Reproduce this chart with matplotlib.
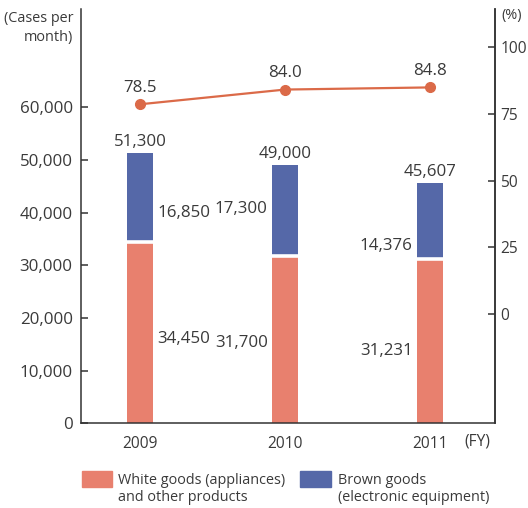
import numpy as np
import matplotlib
matplotlib.use("Agg")
import matplotlib.pyplot as plt
from matplotlib.patches import Rectangle

# ---------------------------------------------------------------------------
# Data
# ---------------------------------------------------------------------------
years = ["2009", "2010", "2011"]
white_goods = [34450, 31700, 31231]
brown_goods = [16850, 17300, 14376]
totals = [51300, 49000, 45607]
rate_pct = [78.5, 84.0, 84.8]

left_ticks = [0, 10000, 20000, 30000, 40000, 50000, 60000]
right_ticks = [0, 25, 50, 75, 100]

# label layout (data units, left axis) and side of the bar
white_label_y = [16000, 15300, 13800]
brown_label_y = [39900, 40700, 33700]
label_side = ["right", "left", "left"]

# ---------------------------------------------------------------------------
# Style
# ---------------------------------------------------------------------------
RED = "#E8806E"
BLUE = "#5568A8"
LINE = "#DB6A48"
TXT = "#3a3a3a"
FONT = "Open Sans"
FS_NUM = 12.2   # numbers
FS_TXT = 10.4   # words

plt.rcParams["font.family"] = [FONT, "DejaVu Sans"]

fig = plt.figure(figsize=(5.28, 5.08), dpi=100)
ax = fig.add_axes([81 / 528, 1 - 423.3 / 508, (495 - 81) / 528, (423.3 - 9) / 508])
ax2 = ax.twinx()

x = np.arange(len(years))
w = 0.18

ax.bar(x, white_goods, width=w, color=RED, zorder=2)
ax.bar(x, brown_goods, bottom=white_goods, width=w, color=BLUE, zorder=2)
# white gap between the segments
ax.hlines(white_goods, x - w / 2, x + w / 2, color="white", lw=2.6, zorder=3)

ax.set_xlim(-0.407, 2.448)
ax.set_ylim(0, 78660)
ax.set_yticks(left_ticks)
ax.set_yticklabels([f"{v:,}" for v in left_ticks])
ax.set_xticks(x)
ax.set_xticklabels(years)

ax2.set_ylim(-40.7, 114.1)
ax2.set_yticks(right_ticks)

for a in (ax, ax2):
    a.spines["top"].set_visible(False)
    for s in a.spines.values():
        s.set_color("#333333")
        s.set_linewidth(1.1)
ax2.spines["left"].set_visible(False)
ax2.spines["bottom"].set_visible(False)

ax.tick_params(axis="y", direction="in", length=5, width=1.1, color="#333333",
               labelsize=FS_NUM, labelcolor=TXT, pad=6)
ax.tick_params(axis="x", length=0, labelsize=11.2, labelcolor=TXT, pad=9)
ax2.tick_params(axis="y", direction="in", length=5, width=1.1, color="#333333",
                labelsize=11.2, labelcolor=TXT, pad=4)

# ratio line
ax2.plot(x, rate_pct, color=LINE, lw=1.6, marker="o", ms=7, zorder=4)
for xi, v in zip(x, rate_pct):
    ax2.annotate(f"{v:.1f}", (xi, v), xytext=(0, 6), textcoords="offset points",
                 ha="center", va="bottom", fontsize=FS_NUM, color=TXT)

# bar labels
for xi, tot in zip(x, totals):
    ax.annotate(f"{tot:,}", (xi, tot), xytext=(0, 2), textcoords="offset points",
                ha="center", va="bottom", fontsize=FS_NUM, color=TXT)

for xi, wv, bv, wy, by, side in zip(x, white_goods, brown_goods,
                                     white_label_y, brown_label_y, label_side):
    if side == "right":
        xo, ha = xi + w / 2 + 0.03, "left"
    else:
        xo, ha = xi - w / 2 - 0.03, "right"
    ax.text(xo, wy, f"{wv:,}", ha=ha, va="center", fontsize=FS_NUM, color=TXT)
    ax.text(xo, by, f"{bv:,}", ha=ha, va="center", fontsize=FS_NUM, color=TXT)

# axis unit labels
fig.text(73 / 528, 1 - 28 / 508, "(Cases per\nmonth)", ha="right", va="center",
         fontsize=FS_TXT, color=TXT, linespacing=1.45)
fig.text(501 / 528, 1 - 16 / 508, "(%)", ha="left", va="center",
         fontsize=FS_TXT, color=TXT)
fig.text(490 / 528, 1 - 441 / 508, "(FY)", ha="right", va="center",
         fontsize=11.2, color=TXT)

# legend
fig.add_artist(Rectangle((82 / 528, 1 - 487 / 508), 30 / 528, 16 / 508,
                         transform=fig.transFigure, color=RED))
fig.add_artist(Rectangle((300 / 528, 1 - 487 / 508), 31 / 528, 16 / 508,
                         transform=fig.transFigure, color=BLUE))
fig.text(118 / 528, 1 - 489 / 508, "White goods (appliances)\nand other products",
         ha="left", va="center", fontsize=FS_TXT, color=TXT, linespacing=1.2)
fig.text(338 / 528, 1 - 489 / 508, "Brown goods\n(electronic equipment)",
         ha="left", va="center", fontsize=FS_TXT, color=TXT, linespacing=1.2)

fig.savefig("out.png", dpi=100)
